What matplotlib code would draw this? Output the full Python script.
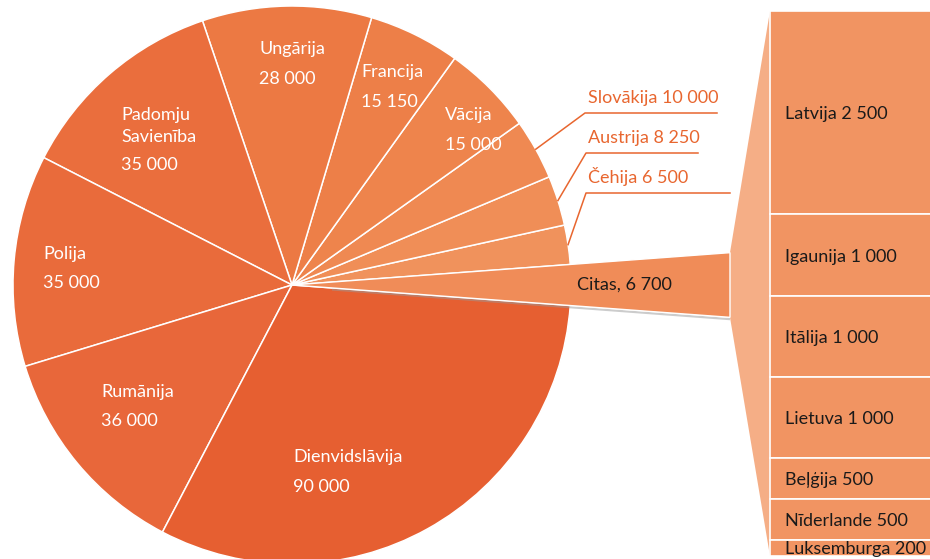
import matplotlib
matplotlib.use("Agg")
import matplotlib.pyplot as plt
import numpy as np
from matplotlib.patches import Polygon

# ---------------- data ----------------
pie_labels = ["Citas", "Čehija", "Austrija", "Slovākija", "Vācija", "Francija",
              "Ungārija", "Padomju\nSavienība", "Polija", "Rumānija", "Dienvidslāvija"]
pie_values = [6700, 6500, 8250, 10000, 15000, 15150, 28000, 35000, 35000, 36000, 90000]
pie_texts = ["6 700", "6 500", "8 250", "10 000", "15 000", "15 150",
             "28 000", "35 000", "35 000", "36 000", "90 000"]

bar_labels = ["Latvija", "Igaunija", "Itālija", "Lietuva", "Beļģija", "Nīderlande", "Luksemburga"]
bar_values = [2500, 1000, 1000, 1000, 500, 500, 200]
bar_texts = ["2 500", "1 000", "1 000", "1 000", "500", "500", "200"]

# ---------------- style ----------------
plt.rcParams['font.family'] = ['Lato', 'DejaVu Sans']
FS = 13
W, H = 930, 559
pie_colors = ["#F08C58", "#F0925C", "#F08E57", "#EF8952", "#EE844C", "#ED7F48",
              "#EC7943", "#EA6E3D", "#E96B3B", "#E8673A", "#E65F31"]
bar_color = "#F19462"
conn_color = "#F5AE86"
orange_txt = "#E8662F"

fig = plt.figure(figsize=(W / 100, H / 100), dpi=100)
ax = fig.add_axes([0, 0, 1, 1])

def Y(py):
    return H - py

cx, cy = 292, Y(285)
R = 279

total = sum(pie_values)
start = -pie_values[0] / total * 360 / 2
wedges, _ = ax.pie(pie_values, colors=pie_colors, startangle=start, counterclock=True,
                   radius=R, center=(cx, cy),
                   wedgeprops=dict(edgecolor="white", linewidth=1.1))

# angle boundaries
bounds = start + np.concatenate([[0], np.cumsum(pie_values)]) / total * 360

# Citas exploded wedge to x = 730
x_end = 730
t1, t2 = np.radians(bounds[0]), np.radians(bounds[1])
y_bot = cy + (x_end - cx) * np.tan(t1)
y_top = cy + (x_end - cx) * np.tan(t2)

bar_x0 = 770
bar_top = Y(11)
scale = (Y(11) - Y(556)) / sum(bar_values)
bar_bottom = bar_top - sum(bar_values) * scale

# connector
ax.add_patch(Polygon([(x_end, y_top), (bar_x0, bar_top), (bar_x0, bar_bottom), (x_end, y_bot)],
                     closed=True, facecolor=conn_color, edgecolor="none", zorder=2))
# shadow of citas wedge
ax.plot([cx + 40, x_end], [cy + 40 * np.tan(t1) - 1.5, y_bot - 1.8], color="#9a9a9a",
        lw=1.6, alpha=0.5, zorder=3, solid_capstyle="butt")
ax.add_patch(Polygon([(cx, cy), (x_end, y_top), (x_end, y_bot)], closed=True,
                     facecolor=pie_colors[0], edgecolor="white", linewidth=1.0, zorder=4))
ax.text(577, Y(290), f"{pie_labels[0]}, {pie_texts[0]}", color="#1a1a1a", fontsize=FS,
        ha="left", va="baseline", zorder=6)

# stacked bar
cum = bar_top
for lab, v, t in zip(bar_labels, bar_values, bar_texts):
    h = v * scale
    ax.bar(bar_x0, -h, bottom=cum, width=200, align="edge", color=bar_color,
           edgecolor="white", linewidth=1.2, zorder=3)
    yc = cum - h / 2
    ax.text(785, yc - 6.5, f"{lab} {t}", color="#1a1a1a", fontsize=FS,
            ha="left", va="baseline", zorder=6)
    cum -= h

# inside labels (pixel layout: x, baseline of name, baseline of value)
inside_layout = {
    "Ungārija": (259, 54, 84),
    "Francija": (361, 77, 107),
    "Vācija": (445, 120, 150),
    "Padomju\nSavienība": (121, 120, 170),
    "Polija": (43, 259, 288),
    "Rumānija": (101, 397, 426),
    "Dienvidslāvija": (293, 462, 492),
}
for lab, t in zip(pie_labels, pie_texts):
    if lab in inside_layout:
        x, b1, b2 = inside_layout[lab]
        lines = lab.split("\n")
        for i, ln in enumerate(lines):
            ax.text(x, Y(b1 + 22 * i), ln, color="white", fontsize=FS, ha="left",
                    va="baseline", zorder=6)
        ax.text(x, Y(b2), t, color="white", fontsize=FS, ha="left", va="baseline", zorder=6)

# outside labels with leader lines
outside_layout = {
    "Slovākija": (585, 113, 717),
    "Austrija": (586, 153, 698),
    "Čehija": (586, 193, 730),
}
for i, (lab, t) in enumerate(zip(pie_labels, pie_texts)):
    if lab in outside_layout:
        ex, ey, xend = outside_layout[lab]
        mid = np.radians((bounds[i] + bounds[i + 1]) / 2)
        sx, sy = cx + R * np.cos(mid), cy + R * np.sin(mid)
        ax.plot([sx, ex, xend], [sy, Y(ey), Y(ey)], color=orange_txt, lw=1.1, zorder=6)
        ax.text(588, Y(ey - 10), f"{lab} {t}", color=orange_txt, fontsize=FS,
                ha="left", va="baseline", zorder=6)

ax.set_xlim(0, W)
ax.set_ylim(0, H)
ax.set_aspect("equal")
ax.axis("off")
fig.savefig("out.png", dpi=100)
